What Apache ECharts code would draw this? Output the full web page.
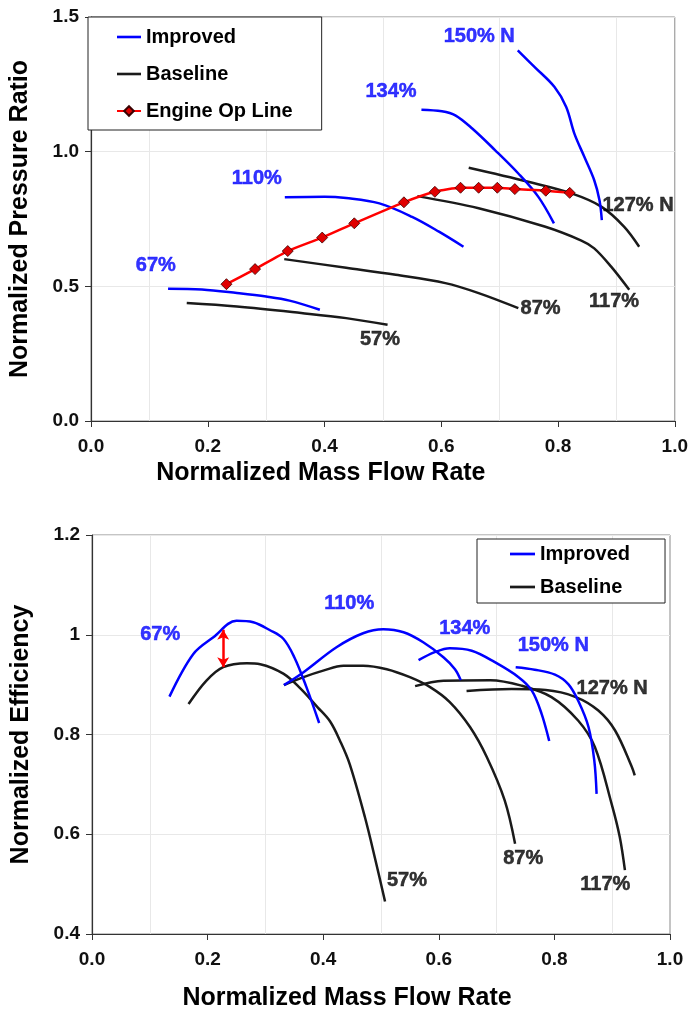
<!DOCTYPE html>
<html>
<head>
<meta charset="utf-8">
<script src="https://cdn.jsdelivr.net/npm/echarts@6/dist/echarts.min.js"></script>
<style>
html,body{margin:0;padding:0;background:#fff;}
#chart{width:691px;height:1015px;}
</style>
</head>
<body>
<div id="chart"></div>
<script>
// ---------- Top chart: pressure ratio vs mass flow ----------
const prImproved67  = [[0.132,0.491],[0.19,0.488],[0.25,0.475],[0.30,0.462],[0.34,0.447],[0.392,0.413]];
const prImproved110 = [[0.332,0.831],[0.40,0.833],[0.437,0.828],[0.494,0.808],[0.55,0.758],[0.596,0.703],[0.638,0.647]];
const prImproved134 = [[0.566,1.156],[0.601,1.150],[0.624,1.135],[0.653,1.086],[0.692,1.006],[0.732,0.919],[0.766,0.833],[0.793,0.734]];
const prImproved150 = [[0.731,1.376],[0.760,1.314],[0.794,1.240],[0.814,1.166],[0.828,1.067],[0.845,0.981],[0.862,0.894],[0.871,0.820],[0.875,0.746]];
const prBaseline57  = [[0.164,0.438],[0.25,0.425],[0.36,0.401],[0.437,0.382],[0.508,0.357]];
const prBaseline87  = [[0.331,0.601],[0.437,0.569],[0.522,0.543],[0.607,0.512],[0.664,0.475],[0.732,0.419]];
const prBaseline117 = [[0.559,0.835],[0.664,0.79],[0.777,0.722],[0.84,0.67],[0.862,0.641],[0.891,0.573],[0.922,0.487]];
const prBaseline127 = [[0.647,0.94],[0.749,0.888],[0.823,0.845],[0.874,0.796],[0.913,0.722],[0.939,0.647]];
const opLine = [[0.232,0.508],[0.281,0.564],[0.337,0.631],[0.396,0.681],[0.451,0.734],[0.536,0.812],[0.589,0.851],[0.633,0.866],[0.664,0.866],[0.696,0.866],[0.726,0.861],[0.779,0.855],[0.820,0.847]];
const prLabelsBlue  = [[0.665,1.428,'150% N'],[0.514,1.224,'134%'],[0.284,0.902,'110%'],[0.111,0.576,'67%']];
const prLabelsBlack = [[0.937,0.802,'127% N'],[0.896,0.443,'117%'],[0.770,0.417,'87%'],[0.495,0.302,'57%']];

// ---------- Bottom chart: efficiency vs mass flow ----------
const efImproved67  = [[0.134,0.876],[0.175,0.961],[0.210,0.995],[0.250,1.028],[0.279,1.025],[0.308,1.009],[0.331,0.992],[0.350,0.955],[0.371,0.895],[0.393,0.823]];
const efImproved110 = [[0.332,0.899],[0.366,0.925],[0.423,0.975],[0.469,1.003],[0.504,1.011],[0.539,1.005],[0.573,0.985],[0.608,0.955],[0.628,0.931],[0.638,0.909]];
const efImproved134 = [[0.565,0.949],[0.593,0.965],[0.619,0.973],[0.657,0.968],[0.697,0.945],[0.738,0.915],[0.761,0.888],[0.778,0.841],[0.791,0.787]];
const efImproved150 = [[0.733,0.935],[0.766,0.930],[0.801,0.920],[0.824,0.901],[0.841,0.868],[0.859,0.815],[0.869,0.748],[0.873,0.681]];
const efBaseline57  = [[0.167,0.861],[0.198,0.908],[0.227,0.935],[0.268,0.943],[0.291,0.941],[0.331,0.922],[0.36,0.893],[0.39,0.855],[0.412,0.826],[0.43,0.785],[0.446,0.74],[0.472,0.635],[0.49,0.55],[0.507,0.465]];
const efBaseline87  = [[0.332,0.899],[0.366,0.915],[0.40,0.928],[0.435,0.938],[0.469,0.938],[0.51,0.931],[0.55,0.915],[0.585,0.895],[0.619,0.865],[0.654,0.815],[0.683,0.755],[0.714,0.668],[0.732,0.581]];
const efBaseline117 = [[0.559,0.897],[0.608,0.908],[0.689,0.909],[0.743,0.898],[0.795,0.875],[0.841,0.828],[0.870,0.775],[0.899,0.661],[0.913,0.595],[0.922,0.528]];
const efBaseline127 = [[0.648,0.887],[0.726,0.891],[0.785,0.889],[0.837,0.875],[0.876,0.848],[0.905,0.808],[0.934,0.735],[0.939,0.718]];
const efLabelsBlue  = [[0.118,1.0,'67%'],[0.445,1.062,'110%'],[0.645,1.012,'134%'],[0.798,0.978,'150% N']];
const efLabelsBlack = [[0.9,0.892,'127% N'],[0.545,0.508,'57%'],[0.746,0.552,'87%'],[0.888,0.5,'117%']];
const efGapArrow = [0.227, 1.010, 0.935];

const xTicks = [0, 1, 0.2];
const prTicks = [0, 1.5, 0.5];
const efTicks = [0.4, 1.2, 0.2];

const FONT = "'Liberation Sans', Arial, sans-serif";
const BLUE = '#0000ff';
const BLACK = '#1a1a1a';
const LINE_ICON = 'path://M0,0H24V2.6H0Z';

function curve(name, data, color, idx) {
  return {
    type: 'line', name: name, data: data, xAxisIndex: idx, yAxisIndex: idx,
    showSymbol: false, symbol: 'none', smooth: 0.35, silent: true,
    lineStyle: { color: color, width: 2.5 }, itemStyle: { color: color }, z: color === BLUE ? 4 : 3
  };
}
function labels(data, color, idx) {
  return {
    type: 'scatter', name: 'lbl' + idx + color, data: data, xAxisIndex: idx, yAxisIndex: idx,
    symbolSize: 0, silent: true, z: 10, itemStyle: { color: color },
    label: { show: true, position: 'inside', formatter: p => p.data[2],
      color: color, textBorderWidth: 0.5, textBorderColor: color,
      fontFamily: FONT, fontWeight: 'bold', fontSize: 20 }
  };
}
function xAxis(idx, gridIdx, nameGap, padRight) {
  return {
    type: 'value', gridIndex: gridIdx, min: xTicks[0], max: xTicks[1], interval: xTicks[2],
    name: 'Normalized Mass Flow Rate', nameLocation: 'middle', nameGap: nameGap,
    nameTextStyle: { fontFamily: FONT, fontWeight: 'bold', fontSize: 25, color: '#000', padding: [0, padRight, 0, 0] },
    axisLine: { show: true, onZero: false, lineStyle: { color: '#333', width: 1.2 } },
    axisTick: { show: true, length: 6, lineStyle: { color: '#333' } },
    axisLabel: { margin: 16, formatter: v => v.toFixed(1), fontFamily: FONT, fontWeight: 'bold', fontSize: 19, color: '#111' },
    splitLine: { show: false },
    minorTick: { show: false, splitNumber: 2 },
    minorSplitLine: { show: true, lineStyle: { color: '#e8e8e8', width: 1 } }
  };
}
function yAxis(gridIdx, ticks, name, nameGap, fmt) {
  return {
    type: 'value', gridIndex: gridIdx, min: ticks[0], max: ticks[1], interval: ticks[2],
    name: name, nameLocation: 'middle', nameGap: nameGap, nameRotate: 90,
    nameTextStyle: { fontFamily: FONT, fontWeight: 'bold', fontSize: 25, color: '#000' },
    axisLine: { show: true, onZero: false, lineStyle: { color: '#333', width: 1.2 } },
    axisTick: { show: true, length: 6, lineStyle: { color: '#333' } },
    axisLabel: { margin: 12, formatter: fmt, fontFamily: FONT, fontWeight: 'bold', fontSize: 19, color: '#111' },
    splitLine: { show: true, lineStyle: { color: '#e8e8e8', width: 1 } }
  };
}

const chart = echarts.init(document.getElementById('chart'), null, { renderer: 'canvas' });
const legendText = { fontFamily: FONT, fontWeight: 'bold', fontSize: 20, color: '#000' };

const option = {
  animation: false,
  backgroundColor: '#fff',
  grid: [
    { left: 88, top: 17, width: 588, height: 404, show: true, borderColor: '#8a8a8a', borderWidth: 1 },
    { left: 92, top: 535, width: 578, height: 399, show: true, borderColor: '#8a8a8a', borderWidth: 1 }
  ],
  legend: [
    { left: 88, top: 17, orient: 'vertical',
      data: [{ name: 'Improved', icon: LINE_ICON }, { name: 'Baseline', icon: LINE_ICON }, { name: 'Engine Op Line' }],
      itemWidth: 24, itemHeight: 12, itemGap: 17, padding: [10, 29, 9, 28],
      backgroundColor: '#fff', borderColor: '#222', borderWidth: 1, textStyle: legendText,
      selectedMode: false },
    { left: 477, top: 539, orient: 'vertical',
      data: [{ name: 'Improved', icon: LINE_ICON }, { name: 'Baseline', icon: LINE_ICON }],
      itemWidth: 25, itemHeight: 12, itemGap: 13, padding: [5, 35, 6, 33],
      backgroundColor: '#fff', borderColor: '#222', borderWidth: 1, textStyle: legendText,
      selectedMode: false }
  ],
  xAxis: [ xAxis(0, 0, 40, 124), xAxis(1, 1, 52, 68) ],
  yAxis: [
    yAxis(0, prTicks, 'Normalized Pressure Ratio', 58, v => v.toFixed(1)),
    yAxis(1, efTicks, 'Normalized Efficiency', 58, v => String(+v.toFixed(1)))
  ],
  series: [
    curve('Improved', prImproved67, BLUE, 0),
    curve('Improved', prImproved110, BLUE, 0),
    curve('Improved', prImproved134, BLUE, 0),
    curve('Improved', prImproved150, BLUE, 0),
    curve('Baseline', prBaseline57, BLACK, 0),
    curve('Baseline', prBaseline87, BLACK, 0),
    curve('Baseline', prBaseline117, BLACK, 0),
    curve('Baseline', prBaseline127, BLACK, 0),
    {
      type: 'line', name: 'Engine Op Line', data: opLine, xAxisIndex: 0, yAxisIndex: 0,
      smooth: 0.2, symbol: 'diamond', symbolSize: 11, showSymbol: true, silent: true, z: 6,
      lineStyle: { color: '#ff0000', width: 2.5 },
      itemStyle: { color: '#e00000', borderColor: '#3a0000', borderWidth: 0.8 }
    },
    labels(prLabelsBlue, BLUE, 0),
    labels(prLabelsBlack, '#000', 0),

    curve('Improved', efImproved67, BLUE, 1),
    curve('Improved', efImproved110, BLUE, 1),
    curve('Improved', efImproved134, BLUE, 1),
    curve('Improved', efImproved150, BLUE, 1),
    Object.assign(curve('Baseline', efBaseline57, BLACK, 1), {
      markLine: {
        silent: true, symbol: ['arrow', 'arrow'], symbolSize: [9, 10],
        label: { show: false },
        lineStyle: { color: '#ff0000', width: 2.5, type: 'solid' },
        data: [[{ coord: [efGapArrow[0], efGapArrow[1]] }, { coord: [efGapArrow[0], efGapArrow[2]] }]]
      }
    }),
    curve('Baseline', efBaseline87, BLACK, 1),
    curve('Baseline', efBaseline117, BLACK, 1),
    curve('Baseline', efBaseline127, BLACK, 1),
    labels(efLabelsBlue, BLUE, 1),
    labels(efLabelsBlack, '#000', 1)
  ]
};
chart.setOption(option);
</script>
</body>
</html>
